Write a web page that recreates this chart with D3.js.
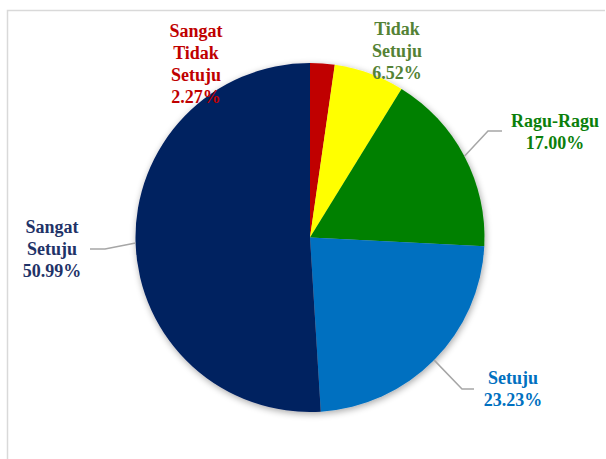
<!DOCTYPE html>
<html><head><meta charset="utf-8">
<script src="https://cdn.jsdelivr.net/npm/d3@7"></script>
<style>body{margin:0;background:#fff}svg{display:block}</style>
</head><body>
<svg id="c" width="606" height="459"></svg>
<script>
const categories = ["Sangat Tidak Setuju", "Tidak Setuju", "Ragu-Ragu", "Setuju", "Sangat Setuju"];
const values = [2.27, 6.52, 17.00, 23.23, 50.99];
const labelLines = [["Sangat","Tidak","Setuju"],["Tidak","Setuju"],["Ragu-Ragu"],["Setuju"],["Sangat","Setuju"]];
const sliceColors = ["#C00000", "#FFFF00", "#008000", "#0070C0", "#002060"];
const labelColors = ["#C00000", "#548235", "#0B7F0B", "#0070C0", "#1F3368"];

// layout (not data)
const W = 606, H = 459, cx = 310, cy = 237.5, R = 174.5;
const labelLayout = [
  {x:196, y:37},
  {x:397, y:35},
  {x:555, y:127},
  {x:513, y:384},
  {x:52,  y:233}
];
const leaderLayout = {
  2: [[488,131],[502,131]],
  3: [[462,389],[474,389]],
  4: [[105,249],[90,249]]
};

const svg = d3.select("#c");
const defs = svg.append("defs");
const f = defs.append("filter").attr("id","sh").attr("x","-20%").attr("y","-20%").attr("width","140%").attr("height","140%");
f.append("feGaussianBlur").attr("in","SourceAlpha").attr("stdDeviation",3.5).attr("result","b");
f.append("feOffset").attr("in","b").attr("dx",1).attr("dy",2).attr("result","o");
f.append("feComponentTransfer").attr("in","o").attr("result","o2").append("feFuncA").attr("type","linear").attr("slope",0.35);
const m = f.append("feMerge"); m.append("feMergeNode").attr("in","o2"); m.append("feMergeNode").attr("in","SourceGraphic");

// frame
svg.append("path").attr("d",`M7.5,${H} V10.5 H605`).attr("fill","none").attr("stroke","#D9D9D9").attr("stroke-width",1.5);

const pie = d3.pie().sort(null).value(d=>d)(values);
const arc = d3.arc().innerRadius(0).outerRadius(R);
const g = svg.append("g").attr("transform",`translate(${cx},${cy})`);
const pg = g.append("g").attr("filter","url(#sh)");
pg.selectAll("path").data(pie).join("path")
  .attr("d",arc).attr("fill",(d,i)=>sliceColors[i]);

// leader lines
const edge = d3.arc().innerRadius(R).outerRadius(R);
Object.keys(leaderLayout).forEach(k=>{
  const i = +k, d = pie[i];
  const a = (d.startAngle + d.endAngle)/2;
  const p0 = [cx + R*Math.sin(a), cy - R*Math.cos(a)];
  const pts = [p0, ...leaderLayout[k]];
  svg.append("path").attr("d", d3.line()(pts)).attr("fill","none")
    .attr("stroke","#A6A6A6").attr("stroke-width",1.5);
});

// labels
const lg = svg.append("g").attr("font-family","'Liberation Serif','Times New Roman',serif")
  .attr("font-weight","bold").attr("font-size",18).attr("text-anchor","middle");
pie.forEach((d,i)=>{
  const lines = [...labelLines[i], values[i].toFixed(2)+"%"];
  const t = lg.append("text").attr("fill",labelColors[i]);
  lines.forEach((s,j)=>{
    t.append("tspan").attr("x",labelLayout[i].x).attr("y",labelLayout[i].y + j*22).text(s);
  });
});
</script>
</body></html>
